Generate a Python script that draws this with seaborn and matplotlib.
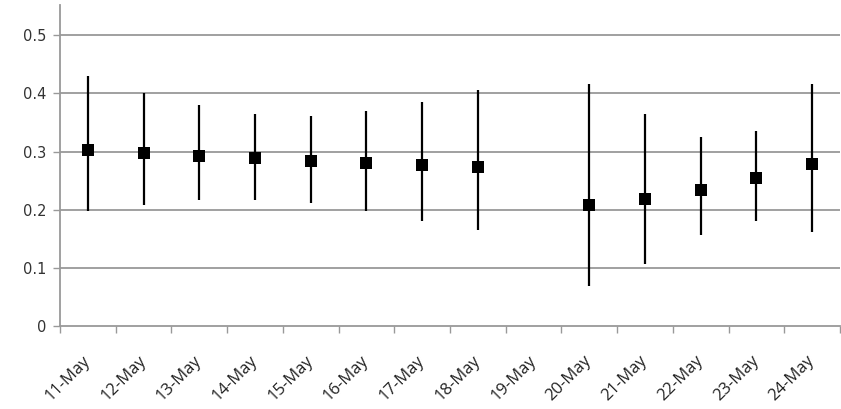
import matplotlib
matplotlib.use("Agg")
import matplotlib.pyplot as plt
import seaborn as sns
import pandas as pd
import numpy as np

# valores (19-May sem dado)
dias = ['11-May', '12-May', '13-May', '14-May', '15-May', '16-May', '17-May',
        '18-May', '19-May', '20-May', '21-May', '22-May', '23-May', '24-May']
media = [0.302, 0.298, 0.293, 0.289, 0.284, 0.280, 0.277,
         0.274, np.nan, 0.208, 0.219, 0.234, 0.254, 0.278]
maximo = [0.430, 0.401, 0.380, 0.364, 0.361, 0.369, 0.385,
          0.405, np.nan, 0.416, 0.364, 0.325, 0.335, 0.416]
minimo = [0.198, 0.208, 0.216, 0.216, 0.212, 0.198, 0.180,
          0.165, np.nan, 0.069, 0.106, 0.156, 0.180, 0.162]
yticks = [0, 0.1, 0.2, 0.3, 0.4, 0.5]
ylabels = ['0', '0.1', '0.2', '0.3', '0.4', '0.5']

df = pd.DataFrame({'dia': dias, 'media': media, 'max': maximo, 'min': minimo})
df['pos'] = np.arange(len(df))

sns.set_style("white")
plt.rcParams['font.family'] = ['DejaVu Sans']

cinza = '#999999'
fig = plt.figure(figsize=(8.41, 4.09), dpi=100)
ax = fig.add_axes([0.0713, 0.2029, 0.9275, 0.7849])

# linhas de grade
for v in yticks[1:]:
    ax.axhline(v, color=cinza, lw=1.3, zorder=0)

# barras max-min
ok = df.dropna()
ax.vlines(ok['pos'], ok['min'], ok['max'], color='black', lw=1.6, zorder=2)

# pontos medios
sns.scatterplot(data=ok, x='pos', y='media', marker='s', color='black',
                s=64, edgecolor='black', linewidth=0, ax=ax, zorder=3)

ax.set_xlim(-0.5, len(dias) - 0.5)
ax.set_ylim(0, 0.552)

ax.set_xticks(df['pos'])
ax.set_xticklabels(dias, rotation=45, ha='right', va='center',
                   rotation_mode='anchor', fontsize=12, family='Open Sans')
ax.set_xticks(np.arange(len(dias) + 1) - 0.5, minor=True)
ax.tick_params(axis='x', which='major', length=0, pad=23)
ax.tick_params(axis='x', which='minor', length=5, width=1, color=cinza,
               direction='out', bottom=True)

ax.set_yticks(yticks)
ax.set_yticklabels(ylabels, fontsize=10.5, color='#333333')
ax.tick_params(axis='y', length=5, width=1, color=cinza, direction='out',
               left=True, pad=5)
for lab in ax.get_xticklabels():
    lab.set_color('#222222')

ax.set_xlabel('')
ax.set_ylabel('')
for lado in ['top', 'right']:
    ax.spines[lado].set_visible(False)
for lado in ['left', 'bottom']:
    ax.spines[lado].set_color(cinza)
    ax.spines[lado].set_linewidth(1.3)

plt.savefig('out.png', dpi=100)
plt.close()
